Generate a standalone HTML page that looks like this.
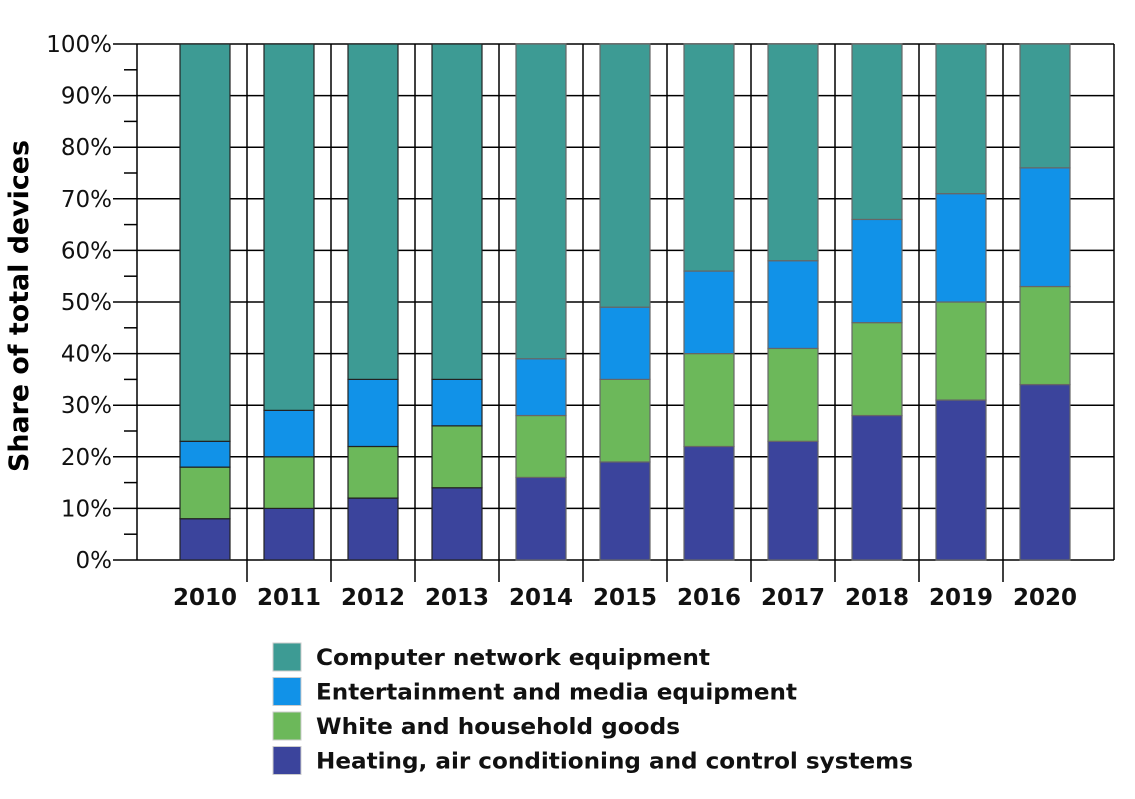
<!DOCTYPE html>
<html><head><meta charset="utf-8"><style>
html,body{margin:0;padding:0;background:#fff;}
svg text{font-family:"DejaVu Sans","Liberation Sans",sans-serif;}
</style></head><body>
<svg id="chart" width="1135" height="794" viewBox="0 0 1135 794" xmlns="http://www.w3.org/2000/svg">
<rect x="0" y="0" width="1135" height="794" fill="#fff"/>
<g id="grid"></g><g id="bars"></g><g id="axes"></g><g id="legend"></g>
<text transform="translate(28,306) rotate(-90)" text-anchor="middle" font-size="27" font-weight="bold" fill="#000" textLength="332" lengthAdjust="spacingAndGlyphs">Share of total devices</text>
</svg>
<script>
const years = ['2010','2011','2012','2013','2014','2015','2016','2017','2018','2019','2020'];
const heating = [8,10,12,14,16,19,22,23,28,31,34];
const whiteGoods = [10,10,10,12,12,16,18,18,18,19,19];
const entertainment = [5,9,13,9,11,14,16,17,20,21,23];
const network = [77,71,65,65,61,51,44,42,34,29,24];
const seriesNames = ['Computer network equipment','Entertainment and media equipment','White and household goods','Heating, air conditioning and control systems'];
const seriesColors = ['#3d9b94','#1192e8','#6cb85a','#3b449c'];
const yTicks = [0,10,20,30,40,50,60,70,80,90,100];

const NS='http://www.w3.org/2000/svg';
const X0=137, X1=1114, Y0=560, Y1=44, CW=84, FIRST=205, BW=50;
const y = v => Y0 - (v/100)*(Y0-Y1);
const xc = i => FIRST + i*CW;
function mk(tag, attrs, parent){const e=document.createElementNS(NS,tag);for(const k in attrs)e.setAttribute(k,attrs[k]);parent.appendChild(e);return e;}
const grid=document.getElementById('grid'), bars=document.getElementById('bars'), axes=document.getElementById('axes'), legend=document.getElementById('legend');

yTicks.forEach(t=>{
  const l=mk('line',{x1:113,x2:X1,y1:y(t),y2:y(t),stroke:'#000','stroke-width':1.5},grid);
  
  
  const tx=mk('text',{x:112,y:y(t)+8,'text-anchor':'end','font-size':23,fill:'#111'},axes);
  tx.textContent=t+'%';
  
  
  if(t<100){const m=mk('line',{x1:124,x2:X0,y1:y(t+5),y2:y(t+5),stroke:'#000','stroke-width':1.5},axes);
  
  }
});
for(let i=0;i<years.length-1;i++){
  const bx=xc(i)+CW/2;
  const l=mk('line',{x1:bx,x2:bx,y1:Y1,y2:582,stroke:'#000','stroke-width':1.5},grid);
  
  
}
const ya=mk('line',{x1:X0,x2:X0,y1:Y1,y2:Y0,stroke:'#000','stroke-width':1.5},axes);


const rb=mk('line',{x1:X1,x2:X1,y1:Y1,y2:Y0,stroke:'#000','stroke-width':1.5},axes);



const stacks=[heating,whiteGoods,entertainment,network];
const stackColors=[seriesColors[3],seriesColors[2],seriesColors[1],seriesColors[0]];
const stackNames=['heating','white-goods','entertainment','network'];
years.forEach((yr,i)=>{
  let base=0;
  stacks.forEach((arr,s)=>{
    const v=arr[i];
    const r=mk('rect',{x:xc(i)-BW/2,y:y(base+v),width:BW,height:y(base)-y(base+v),fill:stackColors[s],stroke:i<4?'#222':'#666','stroke-width':1.2},bars);
    
    
    base+=v;
  });
  const t=mk('text',{x:xc(i),y:605,'text-anchor':'middle','font-size':23,'font-weight':'bold',fill:'#111'},axes);
  t.textContent=yr;
  
  
});

const legendWidths=[394,481,364,597];
seriesNames.forEach((n,k)=>{
  const ly=643+k*34.5;
  const r=mk('rect',{x:273,y:ly,width:28,height:28,fill:seriesColors[k],stroke:'#ccc','stroke-width':1},legend);
  
  
  const t=mk('text',{x:316,y:ly+22,'font-size':22,'font-weight':'bold',fill:'#111',textLength:legendWidths[k],lengthAdjust:'spacingAndGlyphs'},legend);
  t.textContent=n;
  
  
});
</script>
</body></html>
